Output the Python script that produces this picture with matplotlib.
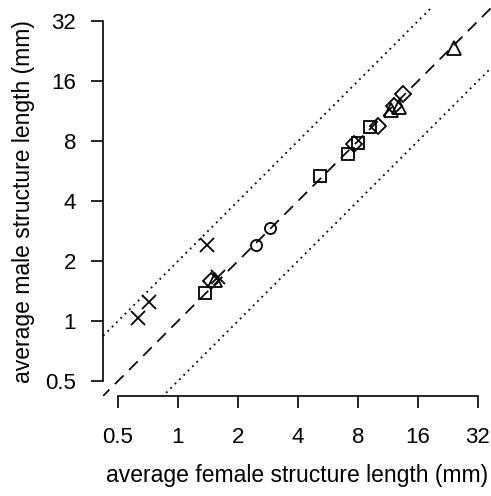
import numpy as np
import matplotlib
matplotlib.use('Agg')
from matplotlib import pyplot as plt

plt.rcParams['font.family'] = ['Liberation Sans', 'DejaVu Sans']

# average female (x) / male (y) structure length in mm, by symbol group
cross_x = [0.63, 0.715, 1.40, 1.59]
cross_y = [1.035, 1.25, 2.41, 1.66]
square_x = [1.366, 5.16, 7.13, 8.0, 9.19]
square_y = [1.38, 5.34, 6.88, 7.82, 9.41]
circle_x = [2.46, 2.90]
circle_y = [2.41, 2.93]
diamond_x = [1.46, 7.64, 10.08, 12.13, 13.45]
diamond_y = [1.59, 7.73, 9.51, 11.98, 13.77]
triangle_x = [1.53, 11.71, 12.85, 24.25]
triangle_y = [1.61, 11.45, 11.85, 23.4]

ticks = [0.5, 1, 2, 4, 8, 16, 32]
tick_labels = ['0.5', '1', '2', '4', '8', '16', '32']

fig = plt.figure(figsize=(4.91, 4.96), dpi=100)
ax = fig.add_axes([103 / 491, 100 / 496, 388 / 491, 388 / 496])
ax.set_xscale('log', base=2)
ax.set_yscale('log', base=2)
lo, hi = 2 ** -1.25, 2 ** 5.22
ax.set_xlim(lo, hi)
ax.set_ylim(lo, hi)

ref = np.array([lo / 4, hi * 4])
ax.plot(ref, ref, color='black', lw=1.25, dashes=(7, 4.5))
ax.plot(ref, ref * 2, color='black', lw=1.3, dashes=(1, 2.4))
ax.plot(ref, ref / 2, color='black', lw=1.3, dashes=(1, 2.4))

mk = dict(linestyle='none', color='black', mfc='none', mew=1.3)
ax.plot(cross_x, cross_y, marker='x', ms=10, **mk)
ax.plot(square_x, square_y, marker='s', ms=8, **mk)
ax.plot(circle_x, circle_y, marker='o', ms=8, **mk)
ax.plot(diamond_x, diamond_y, marker='D', ms=8, **mk)
ax.plot(triangle_x, triangle_y, marker='^', ms=10.5, **mk)

for s in ['top', 'right']:
    ax.spines[s].set_visible(False)
for s in ['bottom', 'left']:
    ax.spines[s].set_bounds(0.5, 32)
    ax.spines[s].set_linewidth(1.2)
ax.set_xticks(ticks, tick_labels)
ax.set_yticks(ticks, tick_labels)
ax.minorticks_off()
ax.tick_params(length=8.5, width=1.2, labelsize=16, pad=14)
ax.tick_params(axis='y', pad=11)
ax.set_xlabel('average female structure length (mm)', fontsize=16.5, labelpad=11)
ax.set_ylabel('average male structure length (mm)', fontsize=16.5, labelpad=7)

fig.savefig('out.png', dpi=100)
